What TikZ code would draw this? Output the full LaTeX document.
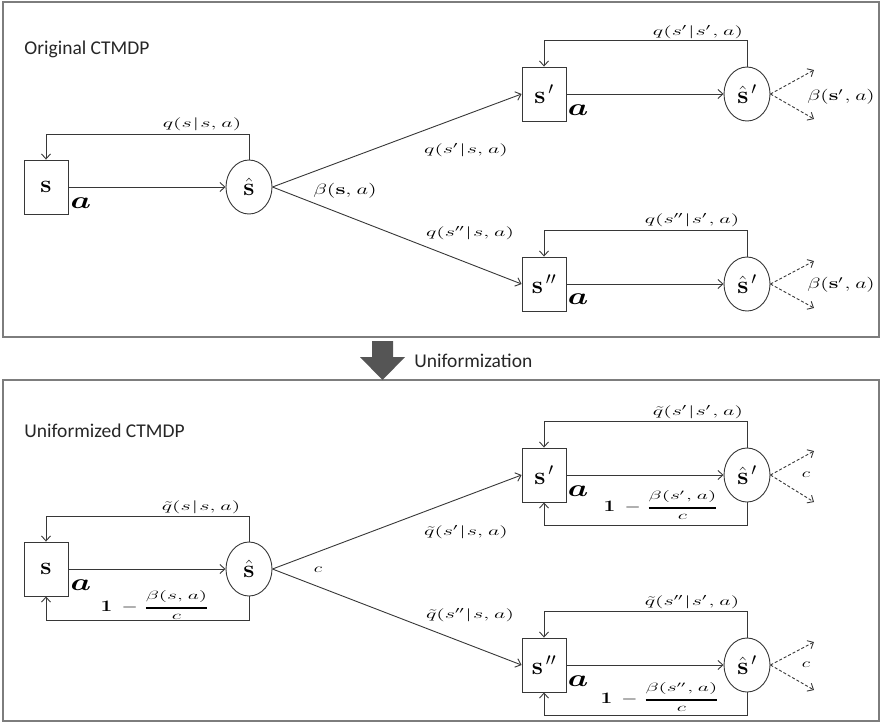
\RequirePackage{fix-cm}
\documentclass[tikz,border=0pt]{standalone}
\usepackage{amsmath}
\usepackage[no-math]{fontspec}
\newfontfamily\panelfont{Carlito}
\usetikzlibrary{arrows.meta,shapes.geometric}

\definecolor{ink}{RGB}{55,55,55}
\definecolor{framec}{RGB}{125,125,125}
\definecolor{bigarrow}{RGB}{85,85,85}

% font sizes for the different kinds of text
\newcommand\statefont{\fontsize{25}{25}\selectfont}
\newcommand\actfont{\fontsize{24}{24}\selectfont}
\newcommand\ratefont{\fontsize{13}{15}\selectfont}
\newcommand\betafont{\fontsize{15}{17}\selectfont}
\newcommand\fracfont{\fontsize{12}{14}\selectfont}
% the labels are set in a horizontally widened math font
\newcommand\wide[2][1.7]{\scalebox{#1}[1]{#2}}
\newcommand\gp{\mskip 1mu}
\newcommand\thickfrac[2]{\genfrac{}{}{1.6pt}{0}{#1}{#2}}
% "1 - beta/c" self-loop weights
\newcommand\keepfrac[1]{%
  \wide[1.3]{\fontsize{16}{16}\selectfont$\mathbf{1}\;\,-\;$}%
  \wide[1.8]{$\thickfrac{#1}{c}$}}

\begin{document}
\begin{tikzpicture}[x=1pt,y=-1pt,
  line width=0.9pt,
  stepbox/.style={draw=ink, rectangle, minimum width=44pt, minimum height=54pt,
    inner sep=0pt, font=\statefont, text=black},
  hub/.style={draw=ink, ellipse, minimum width=46pt, minimum height=54pt,
    inner sep=0pt, font=\statefont, text=black},
  flow/.style={draw=ink, -{Straight Barb[length=5pt,width=9pt]}},
  exit/.style={draw=ink, dash pattern=on 3pt off 2pt,
    -{Straight Barb[length=5pt,width=9pt]}},
  rate/.style={inner sep=0pt, font=\ratefont},
  brate/.style={inner sep=0pt, font=\betafont},
  frate/.style={inner sep=0pt, font=\fracfont},
  act/.style={inner sep=0pt, font=\actfont},
  panel/.style={draw=framec, line width=1.4pt},
  title/.style={font=\panelfont\fontsize{19.5}{22}\selectfont, anchor=west,
    inner sep=0pt, text=black!85}
]
\useasboundingbox (0,0) rectangle (882,724);

% ---------------- panels ----------------
\draw[panel] (3,2) rectangle (879,337);
\draw[panel] (3,380) rectangle (879,721);
\node[title] (t1) at (24,49) {Original CTMDP};
\node[title] (t2) at (24,431) {Uniformized CTMDP};

% transition arrow between the panels
\fill[bigarrow] (372,341) -- (393,341) -- (393,357) -- (405,357) -- (382.5,380)
  -- (360,357) -- (372,357) -- cycle;
\node[title] (t3) at (414,361) {Uniformization};

% ---------------- original CTMDP ----------------
\node[stepbox] (s)   at (46,187) {$\mathbf{s}$};
\node[hub]     (sh)  at (249,187) {$\hat{\mathbf{s}}$};
\node[stepbox] (s1)  at (544,94) {$\mathbf{s}^{\,\prime}$};
\node[hub]     (s1h) at (747,94) {$\hat{\mathbf{s}}^{\,\prime}$};
\node[stepbox] (s2)  at (544,284) {$\mathbf{s}^{\,\prime\prime}$};
\node[hub]     (s2h) at (747,284) {$\hat{\mathbf{s}}^{\,\prime}$};

\node[act] (as)  at (81,203) {\wide[1.35]{$\boldsymbol{a}$}};
\node[act] (as1) at (578,110) {\wide[1.35]{$\boldsymbol{a}$}};
\node[act] (as2) at (578,299) {\wide[1.35]{$\boldsymbol{a}$}};

\draw[flow] (s) -- (sh);
\draw[flow] (sh.north) -- ++(0,-25) -| (s.north);
\draw[flow] (sh.east) -- (s1.west);
\draw[flow] (sh.east) -- (s2.west);
\draw[flow] (s1) -- (s1h);
\draw[flow] (s1h.north) -- ++(0,-26) -| (s1.north);
\draw[flow] (s2) -- (s2h);
\draw[flow] (s2h.north) -- ++(0,-26) -| (s2.north);

\coordinate (e1a) at (814,70);  \coordinate (e1b) at (814,119);
\coordinate (e2a) at (814,261); \coordinate (e2b) at (814,308);
\draw[exit] (s1h.east) -- (e1a);
\draw[exit] (s1h.east) -- (e1b);
\draw[exit] (s2h.east) -- (e2a);
\draw[exit] (s2h.east) -- (e2b);

\node[rate]  (l1) at (202,124) {\wide{$q(s\gp|\gp s,\gp a)$}};
\node[brate] (l2) at (345,191) {\wide[1.5]{$\beta(\mathbf{s},\gp a)$}};
\node[rate]  (l3) at (466,150) {\wide{$q(s'\gp|\gp s,\gp a)$}};
\node[rate]  (l4) at (470,233) {\wide{$q(s''\gp|\gp s,\gp a)$}};
\node[rate]  (l5) at (698,32)  {\wide{$q(s'\gp|\gp s'\gp,\gp a)$}};
\node[rate]  (l6) at (692,220) {\wide{$q(s''\gp|\gp s'\gp,\gp a)$}};
\node[brate] (l7) at (841,97)  {\wide[1.45]{$\beta(\mathbf{s}'\gp,\gp a)$}};
\node[brate] (l8) at (841,285) {\wide[1.45]{$\beta(\mathbf{s}'\gp,\gp a)$}};

% ---------------- uniformized CTMDP ----------------
\node[stepbox] (u)   at (46,569) {$\mathbf{s}$};
\node[hub]     (uh)  at (249,569) {$\hat{\mathbf{s}}$};
\node[stepbox] (u1)  at (544,475) {$\mathbf{s}^{\,\prime}$};
\node[hub]     (u1h) at (747,475) {$\hat{\mathbf{s}}^{\,\prime}$};
\node[stepbox] (u2)  at (544,665) {$\mathbf{s}^{\,\prime\prime}$};
\node[hub]     (u2h) at (747,665) {$\hat{\mathbf{s}}^{\,\prime}$};

\node[act] (au)  at (81,585) {\wide[1.35]{$\boldsymbol{a}$}};
\node[act] (au1) at (578,491) {\wide[1.35]{$\boldsymbol{a}$}};
\node[act] (au2) at (578,681) {\wide[1.35]{$\boldsymbol{a}$}};

\draw[flow] (u) -- (uh);
\draw[flow] (uh.north) -- ++(0,-25) -| (u.north);
\draw[flow] (uh.south) -- ++(0,24) -| (u.south);
\draw[flow] (uh.east) -- (u1.west);
\draw[flow] (uh.east) -- (u2.west);
\draw[flow] (u1) -- (u1h);
\draw[flow] (u1h.north) -- ++(0,-26) -| (u1.north);
\draw[flow] (u1h.south) -- ++(0,23) -| (u1.south);
\draw[flow] (u2) -- (u2h);
\draw[flow] (u2h.north) -- ++(0,-26) -| (u2.north);
\draw[flow] (u2h.south) -- ++(0,23) -| (u2.south);

\coordinate (f1a) at (814,451); \coordinate (f1b) at (814,502);
\coordinate (f2a) at (814,642); \coordinate (f2b) at (814,690);
\draw[exit] (u1h.east) -- (f1a);
\draw[exit] (u1h.east) -- (f1b);
\draw[exit] (u2h.east) -- (f2a);
\draw[exit] (u2h.east) -- (f2b);

\node[rate] (m1) at (201,507) {\wide{$\tilde{q}(s\gp|\gp s,\gp a)$}};
\node[rate] (m2) at (318,570) {\wide[1.5]{$c$}};
\node[rate] (m3) at (466,532) {\wide{$\tilde{q}(s'\gp|\gp s,\gp a)$}};
\node[rate] (m4) at (470,615) {\wide{$\tilde{q}(s''\gp|\gp s,\gp a)$}};
\node[rate] (m5) at (698,412) {\wide{$\tilde{q}(s'\gp|\gp s'\gp,\gp a)$}};
\node[rate] (m6) at (692,602) {\wide{$\tilde{q}(s''\gp|\gp s'\gp,\gp a)$}};
\node[rate] (m7) at (806,475) {\wide[1.5]{$c$}};
\node[rate] (m8) at (806,665) {\wide[1.5]{$c$}};

\node[frate] (n1) at (155,605) {\keepfrac{\beta(s,\gp a)}};
\node[frate] (n2) at (661,505) {\keepfrac{\beta(s'\gp,\gp a)}};
\node[frate] (n3) at (660,697) {\keepfrac{\beta(s''\gp,\gp a)}};
\end{tikzpicture}
\end{document}
